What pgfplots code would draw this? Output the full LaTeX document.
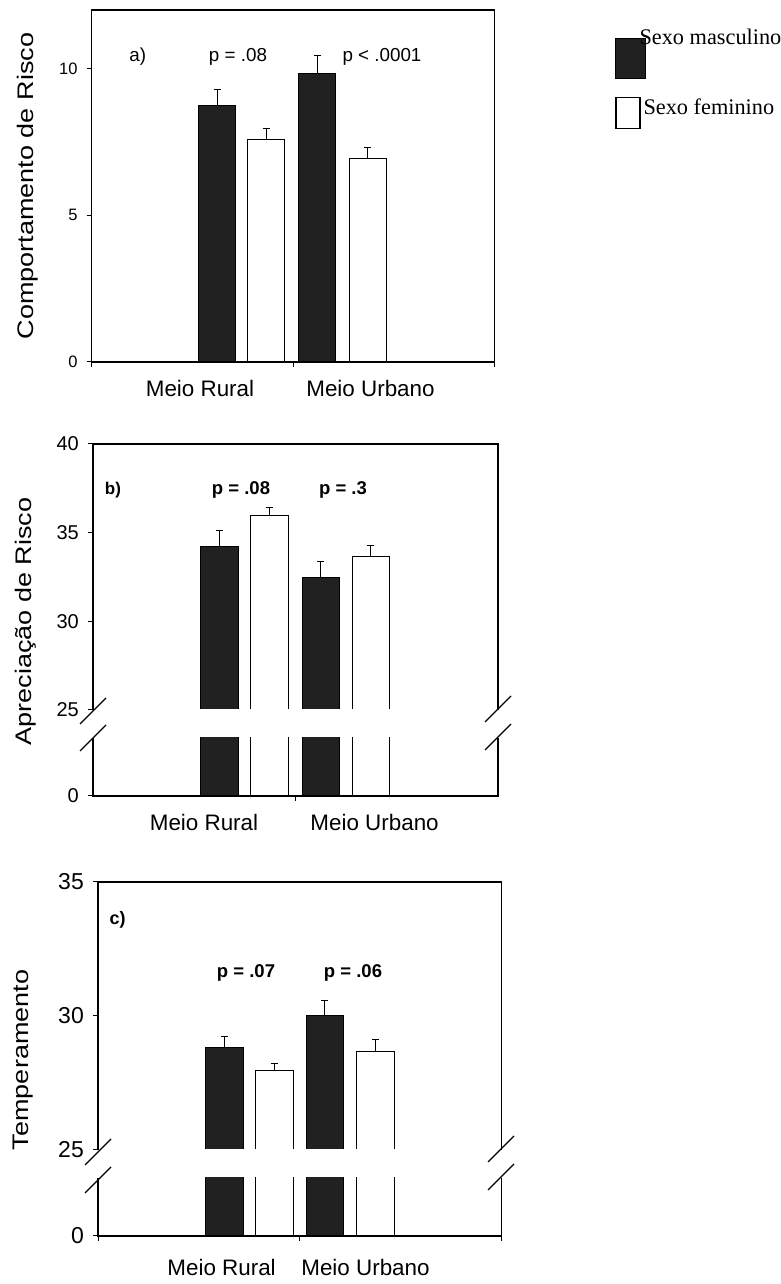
\documentclass[border=0pt]{standalone}
\usepackage{fontspec}
\setmainfont{Liberation Sans}
\newfontfamily\serifleg{Liberation Serif}
\usepackage{pgfplots}
\usepackage{pgfplotstable}
\pgfplotsset{compat=1.18}

% panel a
\pgfplotstableread{
x y e
1.245 8.74 0.55
2.24 9.85 0.59
}\amale
\pgfplotstableread{
x y e
1.735 7.58 0.38
2.745 6.94 0.38
}\afem
% panel b
\pgfplotstableread{
x y e
1.25 34.24 0.88
2.25 32.49 0.86
}\bmale
\pgfplotstableread{
x y e
1.745 35.95 0.48
2.745 33.65 0.63
}\bfem
% panel c
\pgfplotstableread{
x y e
1.255 28.83 0.40
2.25 30.01 0.55
}\cmale
\pgfplotstableread{
x y e
1.75 27.95 0.29
2.75 28.69 0.45
}\cfem

\definecolor{barfill}{gray}{0.13}

\pgfplotsset{
  base/.style={
    scale only axis, xmin=0, xmax=4,
    tick align=outside, xtick pos=bottom, ytick pos=left,
    major tick length=5bp,
    major tick style={line width=1bp, black},
    axis line style={line width=1.1bp},
    /pgf/number format/assume math mode=true,
    yticklabel style={inner sep=0pt, xshift=-9bp},
    xticklabels={,,,},
    clip mode=individual,
  },
  malebar/.style={ybar, bar shift=0pt, bar width=0.37, fill=barfill, draw=black, line width=1bp},
  fembar/.style={ybar, bar shift=0pt, bar width=0.37, fill=white, draw=black, line width=1bp},
  errs/.style={error bars/.cd, y dir=plus, y explicit,
    error bar style={line width=1bp, black},
    error mark options={rotate=90, mark size=3.5bp, line width=1bp, black}},
}

\begin{document}
\begin{tikzpicture}[x=1bp,y=1bp]
\path[use as bounding box] (0,0) rectangle (781,1284);

% ---------------- panel a ----------------
\begin{axis}[base, at={(91.7bp,922bp)}, anchor=south west,
  width=402.6bp, height=352bp, ymin=0, ymax=12,
  xtick={0,2,4}, ytick={0,5,10},
  yticklabel style={font=\fontsize{16.5bp}{16.5bp}\selectfont}]
\addplot[malebar, errs] table[x=x, y=y, y error=e] {\amale};
\addplot[fembar, errs] table[x=x, y=y, y error=e] {\afem};
\end{axis}

% ---------------- panel b ----------------
\begin{axis}[base, at={(93bp,574bp)}, anchor=south west,
  width=405bp, height=266bp, ymin=25, ymax=40,
  xtick=\empty, ytick={25,30,35,40},
  axis line style={draw=none},
  yticklabel style={font=\fontsize{20bp}{20bp}\selectfont}]
\addplot[malebar, errs] table[x=x, y=y, y error=e] {\bmale};
\addplot[fembar, errs] table[x=x, y=y, y error=e] {\bfem};
\draw[white, line width=1.6bp] (axis cs:0.5,25) -- (axis cs:3.5,25);
\draw[line width=1.1bp] (rel axis cs:0,0) -- (rel axis cs:0,1) -- (rel axis cs:1,1) -- (rel axis cs:1,0);
\end{axis}
\begin{axis}[base, at={(93bp,488bp)}, anchor=south west,
  width=405bp, height=58bp, ymin=0, ymax=1,
  xtick={2}, ytick={0},
  axis line style={draw=none},
  yticklabel style={font=\fontsize{20bp}{20bp}\selectfont}]
\addplot[malebar] table[x=x, y=y] {\bmale};
\addplot[fembar] table[x=x, y=y] {\bfem};
\draw[line width=1.1bp] (rel axis cs:0,1) -- (rel axis cs:0,0) -- (rel axis cs:1,0) -- (rel axis cs:1,1);
\end{axis}

% ---------------- panel c ----------------
\begin{axis}[base, at={(98bp,134bp)}, anchor=south west,
  width=403.5bp, height=268bp, ymin=25, ymax=35,
  xtick=\empty, ytick={25,30,35},
  axis line style={draw=none},
  yticklabel style={font=\fontsize{23bp}{23bp}\selectfont}]
\addplot[malebar, errs] table[x=x, y=y, y error=e] {\cmale};
\addplot[fembar, errs] table[x=x, y=y, y error=e] {\cfem};
\draw[white, line width=1.6bp] (axis cs:0.5,25) -- (axis cs:3.5,25);
\draw[line width=1.1bp] (rel axis cs:0,0) -- (rel axis cs:0,1) -- (rel axis cs:1,1) -- (rel axis cs:1,0);
\end{axis}
\begin{axis}[base, at={(98bp,48bp)}, anchor=south west,
  width=403.5bp, height=58bp, ymin=0, ymax=1,
  xtick={0,2,4}, ytick={0},
  axis line style={draw=none},
  yticklabel style={font=\fontsize{23bp}{23bp}\selectfont}]
\addplot[malebar] table[x=x, y=y] {\cmale};
\addplot[fembar] table[x=x, y=y] {\cfem};
\draw[line width=1.1bp] (rel axis cs:0,1) -- (rel axis cs:0,0) -- (rel axis cs:1,0) -- (rel axis cs:1,1);
\end{axis}

% axis breaks
\begin{scope}[line width=1.1bp]
\foreach \bx/\by in {93/573, 93/546, 498/575, 498/547, 98/132, 98/104, 501/135, 501/107}{
  \draw (\bx-13,\by-13) -- (\bx+13,\by+13);
}
\end{scope}

% y labels
\node[rotate=90, xscale=1.2, anchor=base, font=\fontsize{22.5bp}{22.5bp}\selectfont] at (33,1098) {Comportamento de Risco};
\node[rotate=90, xscale=1.2, anchor=base, font=\fontsize{22.5bp}{22.5bp}\selectfont] at (31,662.5) {Apreciação de Risco};
\node[rotate=90, xscale=1.2, anchor=base, font=\fontsize{22.5bp}{22.5bp}\selectfont] at (28.5,224) {Temperamento};

% x category labels
\begin{scope}[every node/.style={anchor=base, inner sep=0pt, font=\fontsize{22.4bp}{22.4bp}\selectfont}]
\node at (200,887) {Meio Rural};
\node at (370.5,887) {Meio Urbano};
\node at (204,453) {Meio Rural};
\node at (374.6,453) {Meio Urbano};
\node at (221.6,8) {Meio Rural};
\node at (365.5,8) {Meio Urbano};
\end{scope}

% panel annotations
\begin{scope}[every node/.style={anchor=base, inner sep=0pt}]
\node[font=\fontsize{18.8bp}{18.8bp}\selectfont] at (137.7,1222) {a)};
\node[font=\fontsize{18.8bp}{18.8bp}\selectfont] at (238,1222) {p = .08};
\node[font=\fontsize{18.8bp}{18.8bp}\selectfont] at (382,1222) {p < .0001};
\node[font=\bfseries\fontsize{17bp}{17bp}\selectfont] at (113,789) {b)};
\node[font=\bfseries\fontsize{18.5bp}{18.5bp}\selectfont] at (241,789) {p = .08};
\node[font=\bfseries\fontsize{18.5bp}{18.5bp}\selectfont] at (343,789) {p = .3};
\node[font=\bfseries\fontsize{18bp}{18bp}\selectfont] at (117.6,359) {c)};
\node[font=\bfseries\fontsize{18.5bp}{18.5bp}\selectfont] at (246,306) {p = .07};
\node[font=\bfseries\fontsize{18.5bp}{18.5bp}\selectfont] at (353,306) {p = .06};
\end{scope}

% legend
\draw[line width=1bp, fill=barfill] (615,1205.7) rectangle (645,1245.7);
\node[anchor=base west, inner sep=0pt, font=\serifleg\fontsize{22.3bp}{22.3bp}\selectfont] at (639.3,1239) {Sexo masculino};
\draw[line width=1.2bp, fill=white] (616,1155.7) rectangle (640,1186.7);
\node[anchor=base west, inner sep=0pt, font=\serifleg\fontsize{22.3bp}{22.3bp}\selectfont] at (643.3,1169) {Sexo feminino};
\end{tikzpicture}
\end{document}
